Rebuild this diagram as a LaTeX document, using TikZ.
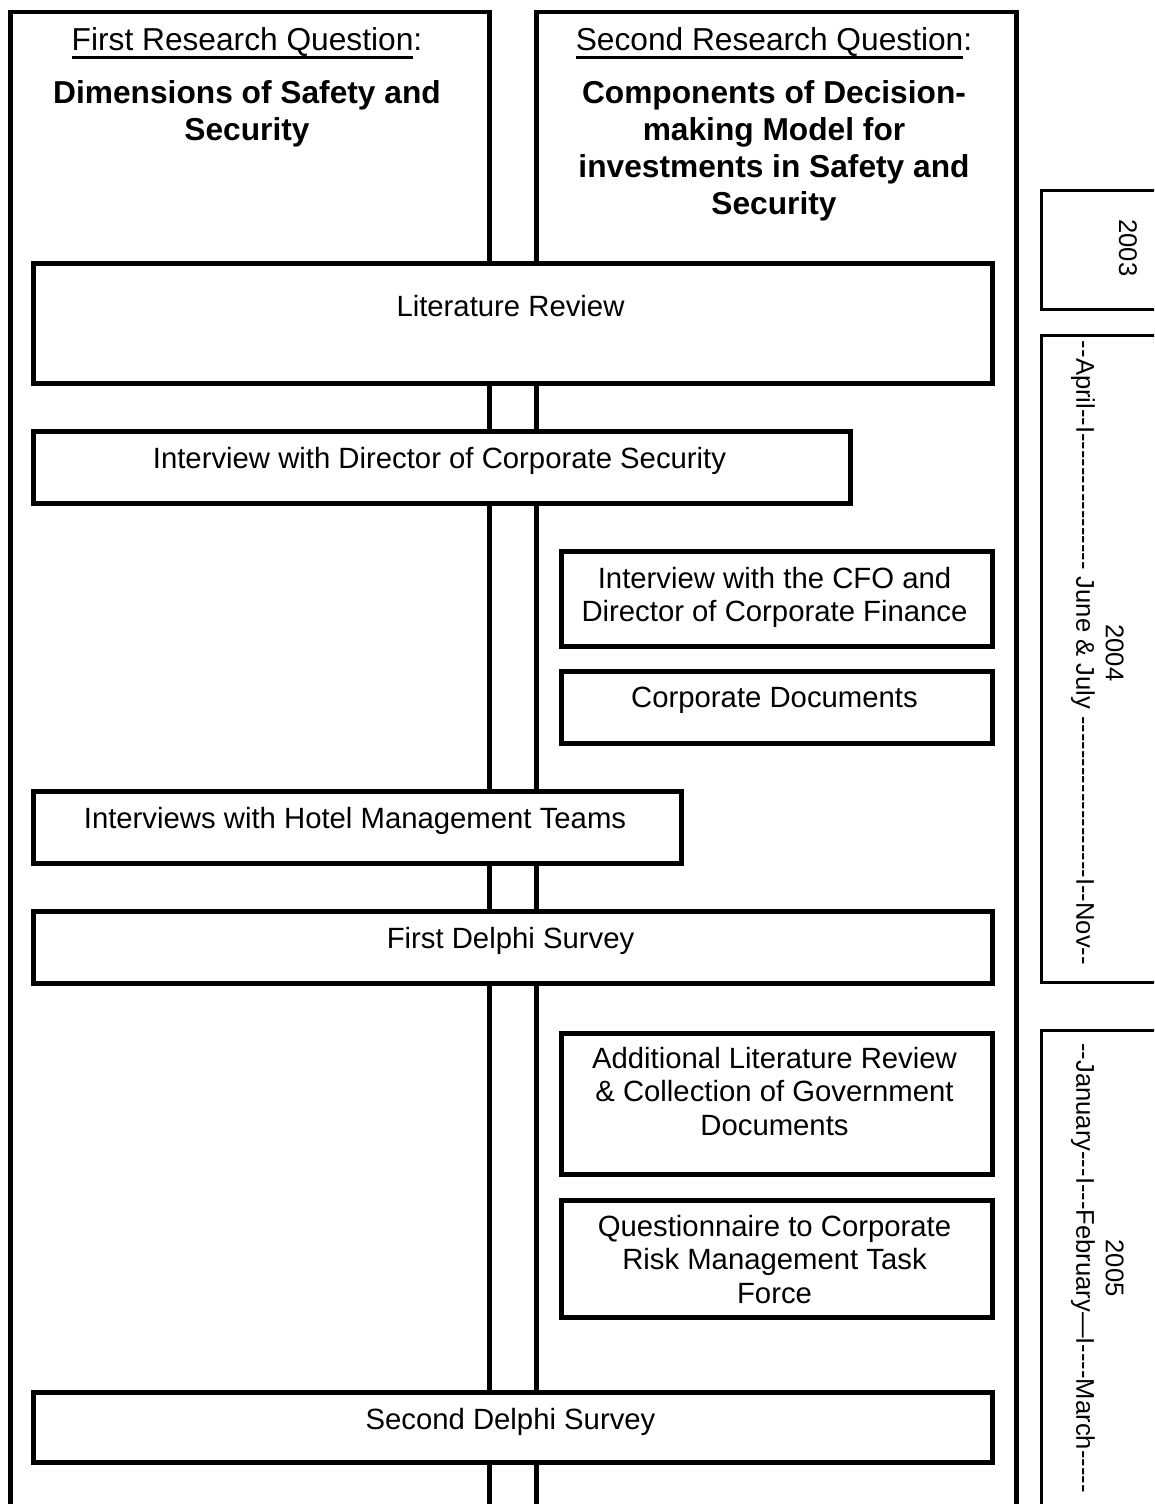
\documentclass[tikz,border=0pt]{standalone}
\usepackage{fontspec}
\setmainfont{Liberation Sans}
% a run of plain hyphens, kept apart so they never merge into dashes
\newcommand\hyrun[1]{\foreach \k in {1,...,#1}{\mbox{-}}}
% a firm underline set close under the words
\newcommand\headrule[1]{\setbox0\hbox{#1}\rlap{\rule[-7.6pt]{\wd0}{2.3pt}}\box0}
\begin{document}
\begin{tikzpicture}[x=1pt,y=-1pt,
  colframe/.style={draw, line width=4.5pt, anchor=north west, inner sep=0pt},
  stage/.style={draw, fill=white, line width=4.5pt, anchor=north west, inner sep=0pt},
  period/.style={draw, line width=2.5pt, anchor=north west, inner sep=0pt},
  body/.style={font=\fontsize{29.3}{33.5}\selectfont, align=center, inner sep=0pt},
  qhead/.style={font=\fontsize{31.7}{37}\selectfont, align=center, inner sep=0pt, anchor=base},
  qtitle/.style={font=\fontsize{31.7}{37}\selectfont\bfseries, align=center, inner sep=0pt, anchor=north},
  yearlbl/.style={font=\fontsize{25.6}{29.5}\selectfont, align=center, inner sep=0pt, rotate=-90}
]
\clip (0,0) rectangle (1154,1504);
\fill[white] (0,0) rectangle (1154,1504);

% the two research-question columns
\node[colframe, minimum width=479pt, minimum height=1600pt] (q1) at (8,10) {};
\node[colframe, minimum width=480pt, minimum height=1600pt] (q2) at (534,10) {};

\node[qhead] (q1-h) at (247,51) {\headrule{First Research Question}:};
\node[qtitle] (q1-t) at (247,80) {Dimensions of Safety and\\Security};
\node[qhead] (q2-h) at (774,51) {\headrule{Second Research Question}:};
\node[qtitle] (q2-t) at (774,80) {Components of Decision-\\making Model for\\investments in Safety and\\Security};

% research stages
\node[stage, minimum width=959pt, minimum height=120pt] (lit) at (31,261) {};
\node[body, anchor=base] (lit-t) at (510.5,316) {Literature Review};

\node[stage, minimum width=817pt, minimum height=72pt] (dir) at (31,429) {};
\node[body, anchor=base] (dir-t) at (439.5,468) {Interview with Director of Corporate Security};

\node[stage, minimum width=431pt, minimum height=95pt] (cfo) at (559,549) {};
\node[body, anchor=north] (cfo-t) at (774.5,567) {Interview with the CFO and\\Director of Corporate Finance};

\node[stage, minimum width=431pt, minimum height=72pt] (docs) at (559,669) {};
\node[body, anchor=base] (docs-t) at (774.5,707) {Corporate Documents};

\node[stage, minimum width=648pt, minimum height=72pt] (hotel) at (31,789) {};
\node[body, anchor=base] (hotel-t) at (355,828) {Interviews with Hotel Management Teams};

\node[stage, minimum width=959pt, minimum height=72pt] (d1) at (31,909) {};
\node[body, anchor=base] (d1-t) at (510.5,948) {First Delphi Survey};

\node[stage, minimum width=431pt, minimum height=141pt] (add) at (559,1031) {};
\node[body, anchor=north] (add-t) at (774.5,1047) {Additional Literature Review\\\& Collection of Government\\Documents};

\node[stage, minimum width=431pt, minimum height=117pt] (quest) at (559,1198) {};
\node[body, anchor=north] (quest-t) at (774.5,1215) {Questionnaire to Corporate\\Risk Management Task\\Force};

\node[stage, minimum width=959pt, minimum height=70pt] (d2) at (31,1390) {};
\node[body, anchor=base] (d2-t) at (510.5,1429) {Second Delphi Survey};

% time line
\node[period, minimum width=180pt, minimum height=119pt] (t3) at (1040,189) {};
\node[yearlbl] (t3-t) at (1128,248) {2003};

\node[period, minimum width=180pt, minimum height=647pt] (t4) at (1040,334) {};
\node[yearlbl] (t4-t) at (1097.5,653) {2004\\\hyrun{2}April\hyrun{2}I\hyrun{16} June \& July \hyrun{19}I\hyrun{2}Nov\hyrun{2}};

\node[period, minimum width=180pt, minimum height=600pt] (t5) at (1040,1029) {};
\node[yearlbl] (t5-t) at (1097.5,1268) {2005\\\hyrun{2}January\hyrun{3}I\hyrun{3}February—I\hyrun{4}March\hyrun{5}};
\end{tikzpicture}
\end{document}
